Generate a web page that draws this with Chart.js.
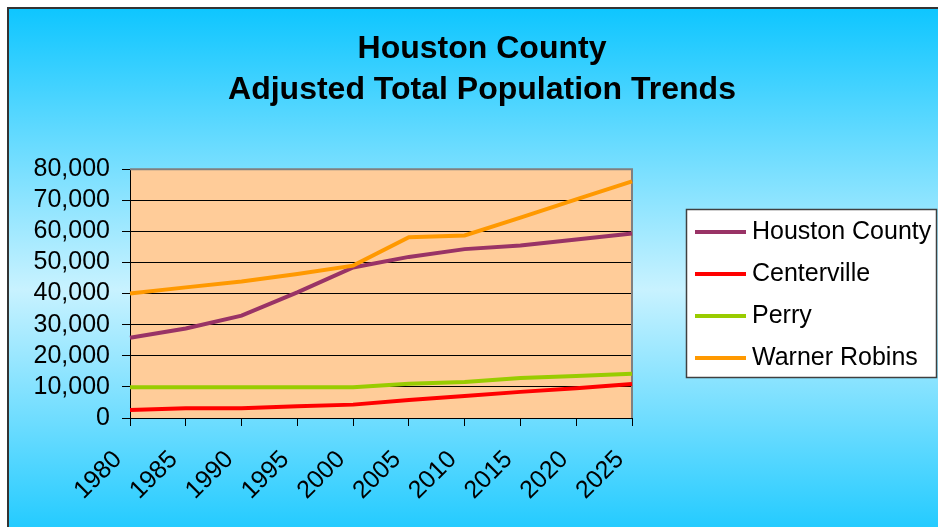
<!DOCTYPE html>
<html>
<head>
<meta charset="utf-8">
<title>Houston County Adjusted Total Population Trends</title>
<script src="https://cdn.jsdelivr.net/npm/chart.js@4.4.1/dist/chart.umd.min.js"></script>
<style>
    html, body {
        margin: 0;
        padding: 0;
        width: 938px;
        height: 527px;
        overflow: hidden;
        background: #ffffff;
    }
    .chart-frame {
        position: absolute;
        left: 7px;
        top: 7px;
        width: 1000px;
        height: 550px;
        border-left: 2px solid #333333;
        border-top: 2px solid #333333;
        background: linear-gradient(to bottom, #0fc6ff 0%, #c8f2ff 51%, #0fc6ff 100%);
    }
    #populationChart {
        position: absolute;
        left: 0;
        top: 0;
    }
</style>
</head>
<body>
<div class="chart-frame"></div>
<canvas id="populationChart" width="964" height="527"></canvas>

<script>
// Census years on the x axis
const years = ['1980', '1985', '1990', '1995', '2000', '2005', '2010', '2015', '2020', '2025'];

// Population per area
const houstonCounty = [25800, 28800, 32900, 40400, 48400, 51800, 54300, 55500, 57400, 59300];
const centerville = [2600, 3100, 3100, 3800, 4300, 5800, 7100, 8400, 9600, 10900];
const perry = [9900, 9900, 9900, 9900, 9900, 11000, 11600, 12900, 13500, 14200];
const warnerRobins = [40000, 42000, 43900, 46300, 49000, 58100, 58700, 64400, 70300, 76100];

const seriesNames = ['Houston County', 'Centerville', 'Perry', 'Warner Robins'];
const seriesColors = ['#993366', '#ff0000', '#99cc00', '#ff9900'];

// y axis range
const yMin = 0;
const yMax = 80000;
const yStep = 10000;

const FONT = '"Liberation Sans", Arial, sans-serif';

document.addEventListener('DOMContentLoaded', function() {
    Chart.defaults.font.family = FONT;
    Chart.defaults.color = '#000000';
    renderChart();
});

// Peach plot area with a grey frame on top and right
const plotAreaPlugin = {
    id: 'plotArea',
    beforeDraw(chart) {
        const { ctx, chartArea } = chart;
        ctx.save();
        ctx.fillStyle = '#ffcc99';
        ctx.fillRect(chartArea.left, chartArea.top, chartArea.right - chartArea.left, chartArea.bottom - chartArea.top);
        ctx.restore();
    },
    beforeDatasetsDraw(chart) {
        const { ctx, chartArea } = chart;
        ctx.save();
        ctx.strokeStyle = '#808080';
        ctx.lineWidth = 2;
        ctx.beginPath();
        ctx.moveTo(chartArea.left, chartArea.top);
        ctx.lineTo(chartArea.right, chartArea.top);
        ctx.lineTo(chartArea.right, chartArea.bottom);
        ctx.stroke();
        ctx.restore();
    }
};

// Boxed legend to the right of the plot
const boxLegendPlugin = {
    id: 'boxLegend',
    afterDraw(chart) {
        const ctx = chart.ctx;
        const datasets = chart.data.datasets;
        ctx.save();
        ctx.fillStyle = '#ffffff';
        ctx.fillRect(686, 209, 251, 169);
        ctx.strokeStyle = '#404040';
        ctx.lineWidth = 1.5;
        ctx.strokeRect(686.5, 209.5, 250, 168);

        ctx.font = '25px ' + FONT;
        ctx.textBaseline = 'middle';
        ctx.textAlign = 'left';
        datasets.forEach((ds, i) => {
            const y = 232 + i * 42;
            ctx.strokeStyle = ds.borderColor;
            ctx.lineWidth = 4;
            ctx.beginPath();
            ctx.moveTo(695, y);
            ctx.lineTo(746, y);
            ctx.stroke();
            ctx.fillStyle = '#000000';
            ctx.fillText(ds.label, 752, y);
        });
        ctx.restore();
    }
};

function renderChart() {
    const ctx = document.getElementById('populationChart').getContext('2d');
    const values = [houstonCounty, centerville, perry, warnerRobins];

    new Chart(ctx, {
        type: 'line',
        data: {
            labels: years,
            datasets: values.map((data, i) => ({
                label: seriesNames[i],
                data: data,
                borderColor: seriesColors[i],
                backgroundColor: seriesColors[i],
                borderWidth: 4,
                pointRadius: 0,
                tension: 0,
                fill: false,
                order: values.length - i
            }))
        },
        options: {
            responsive: false,
            animation: false,
            devicePixelRatio: 1,
            layout: {
                padding: 0
            },
            plugins: {
                legend: { display: false },
                tooltip: { enabled: false },
                title: {
                    display: true,
                    text: ['Houston County', 'Adjusted Total Population Trends'],
                    color: '#000000',
                    font: { size: 32, weight: 'bold', lineHeight: 1.3 },
                    padding: { top: 28, bottom: 58 }
                }
            },
            scales: {
                x: {
                    offset: false,
                    grid: {
                        drawOnChartArea: false,
                        drawTicks: true,
                        tickLength: 8,
                        color: '#000000'
                    },
                    border: { color: '#000000', width: 1 },
                    ticks: {
                        minRotation: 45,
                        maxRotation: 45,
                        autoSkip: false,
                        padding: 19,
                        labelOffset: -12,
                        font: { size: 25 },
                        color: '#000000'
                    },
                    afterFit: scale => { scale.height = 109; }
                },
                y: {
                    min: yMin,
                    max: yMax,
                    grid: {
                        color: '#000000',
                        lineWidth: 1,
                        tickLength: 8
                    },
                    border: { color: '#000000', width: 1 },
                    ticks: {
                        stepSize: yStep,
                        autoSkip: false,
                        padding: 12,
                        font: { size: 25 },
                        color: '#000000',
                        callback: value => value.toLocaleString('en-US')
                    },
                    afterFit: scale => { scale.width = 130; }
                },
                // empty axis that keeps room for the legend box
                legendRoom: {
                    position: 'right',
                    display: true,
                    grid: { display: false },
                    border: { display: false },
                    ticks: { display: false },
                    afterFit: scale => { scale.width = 332; }
                }
            }
        },
        plugins: [plotAreaPlugin, boxLegendPlugin]
    });
}
</script>
</body>
</html>
